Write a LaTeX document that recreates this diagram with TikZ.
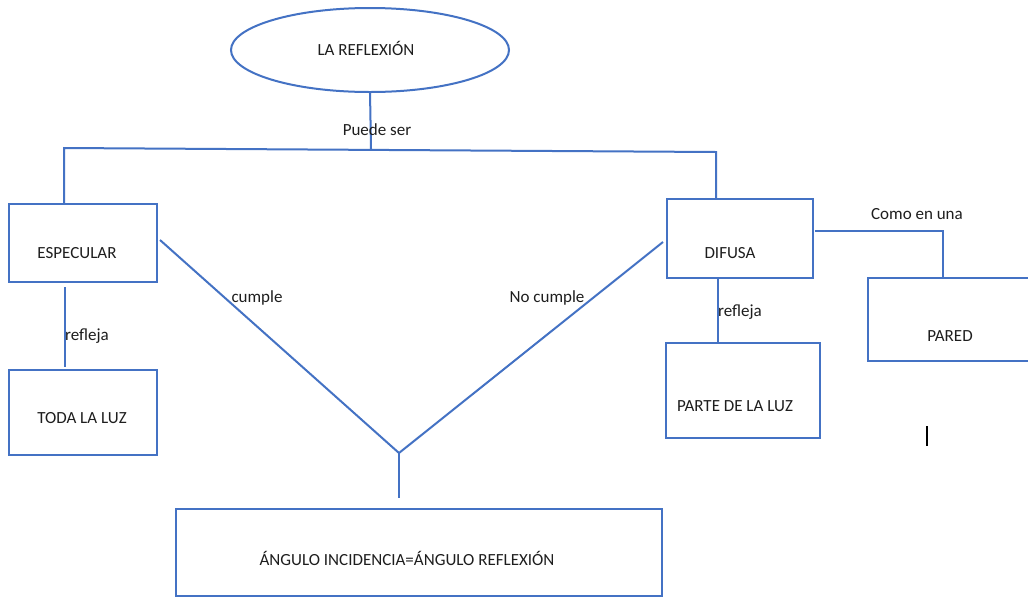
\documentclass[tikz,border=0pt]{standalone}
\usepackage{fontspec}
\setmainfont{Carlito}
\usetikzlibrary{shapes.geometric}
\definecolor{lineblue}{HTML}{4472C4}
\definecolor{txt}{HTML}{1E1E1E}
\begin{document}
\begin{tikzpicture}[x=1pt,y=-1pt,
  every node/.style={font=\fontsize{17}{20}\selectfont, text=txt},
  box/.style={draw=lineblue, line width=2pt, rectangle, inner sep=0pt, outer sep=0pt},
  conn/.style={draw=lineblue, line width=2pt},
  lbl/.style={inner sep=0pt}]
\useasboundingbox (0,0) rectangle (1028,598);
\fill[white] (0,0) rectangle (1028,598);

\node[box, ellipse, minimum width=278pt, minimum height=84pt,
  label={[lbl,xshift=-4pt,yshift=2pt]center:LA REFLEXIÓN}] (ref) at (370,50) {};
\node[box, minimum width=148pt, minimum height=78pt,
  label={[lbl,xshift=-6pt,yshift=-10pt]center:ESPECULAR}] (esp) at (83,243) {};
\node[box, minimum width=148pt, minimum height=85pt,
  label={[lbl,xshift=-1pt,yshift=-5.5pt]center:TODA LA LUZ}] (toda) at (83,412.5) {};
\node[box, minimum width=486pt, minimum height=87pt,
  label={[lbl,xshift=-12pt,yshift=-5.5pt]center:ÁNGULO INCIDENCIA=ÁNGULO REFLEXIÓN}] (ang) at (419,552.5) {};
\node[box, minimum width=146pt, minimum height=79pt,
  label={[lbl,xshift=-10pt,yshift=-14.5pt]center:DIFUSA}] (dif) at (740,238.5) {};
\node[box, minimum width=166pt, minimum height=83pt,
  label={[lbl,xshift=-1pt,yshift=-16.5pt]center:PARED}] (pared) at (951,319.5) {};
\node[box, minimum width=154pt, minimum height=95pt,
  label={[lbl,xshift=-8pt,yshift=-15.5pt]center:PARTE DE LA LUZ}] (parte) at (743,390.5) {};

% junctions
\coordinate (jl) at (64,148);
\coordinate (jr) at (716,152);
\coordinate (jm) at (371,149);
\coordinate (apex) at (399,453);
\coordinate (pc) at (943,231);

\draw[conn] (ref.south) -- (jm);
\draw[conn] (esp.north -| jl) -- (jl) -- (jr) -- (dif.north -| jr);
\draw[conn] ([xshift=-18pt,yshift=-5pt]esp.south) -- ([xshift=-18pt,yshift=3pt]toda.north);
\draw[conn] ([xshift=3pt,yshift=3pt]esp.east) -- (apex) -- ([xshift=-4pt,yshift=-3.5pt]dif.west);
\draw[conn] (apex) -- ([xshift=-20pt,yshift=11pt]ang.north);
\draw[conn] ([xshift=2pt,yshift=7.5pt]dif.east) -- (pc) -- (pared.north -| pc);
\draw[conn] ([xshift=-22pt,yshift=1pt]dif.south) -- ([xshift=-25pt,yshift=1pt]parte.north);

% labels
\node[lbl] (lpuede) at (377,130) {Puede ser};
\node[lbl] (lcumple) at (257,298) {cumple};
\node[lbl] (lno) at (547,298) {No cumple};
\node[lbl] (lref1) at (87,336) {refleja};
\node[lbl] (lref2) at (740,312) {refleja};
\node[lbl] (lcomo) at (917,214) {Como en una};

% text cursor mark
\draw[black, line width=1.3pt] (927,426) -- (927,446);
\end{tikzpicture}
\end{document}
